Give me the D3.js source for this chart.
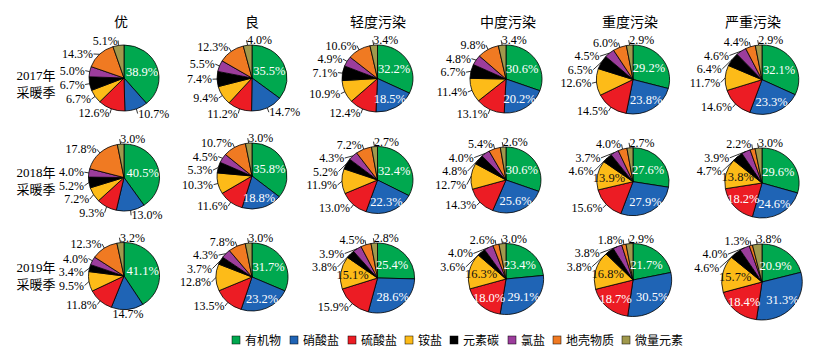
<!DOCTYPE html>
<html><head><meta charset="utf-8">
<script src="https://cdn.jsdelivr.net/npm/d3@7"></script>
<style>
body{margin:0;background:#fff}
text{font-family:"Liberation Serif","Times New Roman","Noto Sans CJK SC",serif}
</style>
</head><body>
<svg id="c" width="817" height="357"></svg>
<script>
// ---------- data ----------
const columns = ['优', '良', '轻度污染', '中度污染', '重度污染', '严重污染'];
const seasonYears = ['2017年', '2018年', '2019年'];
const seasonSuffix = '采暖季';
const components = ['有机物', '硝酸盐', '硫酸盐', '铵盐', '元素碳', '氯盐', '地壳物质', '微量元素'];

const share2017 = [
  [38.9, 10.7, 12.6, 6.7, 6.7, 5.0, 14.3, 5.1],
  [35.5, 14.7, 11.2, 9.4, 7.4, 5.5, 12.3, 4.0],
  [32.2, 18.5, 12.4, 10.9, 7.1, 4.9, 10.6, 3.4],
  [30.6, 20.2, 13.1, 11.4, 6.7, 4.8, 9.8, 3.4],
  [29.2, 23.8, 14.5, 12.6, 6.5, 4.5, 6.0, 2.9],
  [32.1, 23.3, 14.6, 11.7, 6.4, 4.6, 4.4, 2.9]
];
const share2018 = [
  [40.5, 13.0, 9.3, 7.2, 5.2, 4.0, 17.8, 3.0],
  [35.8, 18.8, 11.6, 10.3, 5.3, 4.5, 10.7, 3.0],
  [32.4, 22.3, 13.0, 11.9, 5.2, 4.3, 7.2, 2.7],
  [30.6, 25.6, 14.3, 12.7, 4.8, 4.0, 5.4, 2.6],
  [27.6, 27.9, 15.6, 13.9, 4.6, 3.7, 4.0, 2.7],
  [29.6, 24.6, 18.2, 13.8, 4.7, 3.9, 2.2, 3.0]
];
const share2019 = [
  [41.1, 14.7, 11.8, 9.5, 3.4, 4.0, 12.3, 3.2],
  [31.7, 23.2, 13.5, 12.8, 3.7, 4.3, 7.8, 3.0],
  [25.4, 28.6, 15.9, 15.1, 3.8, 3.9, 4.5, 2.8],
  [23.4, 29.1, 18.0, 16.3, 3.6, 4.0, 2.6, 3.0],
  [21.7, 30.5, 18.7, 16.8, 3.8, 3.8, 1.8, 2.9],
  [20.9, 31.3, 18.4, 15.7, 4.6, 4.0, 1.3, 3.8]
];
const shares = [share2017, share2018, share2019];

// ---------- layout / style ----------
const colors = ['#00a84f', '#1f64b5', '#ec1c24', '#fdbb18', '#000000', '#9c3d9c', '#f07a22', '#a0994c'];
const colX = [124, 252, 377.5, 506, 633, 762];
const cyGrid = [[78, 78, 78.5, 79, 79.5, 79.7], [177.5, 176, 180, 180, 181.7, 183], [276, 277, 278, 279, 280, 282]];
const ryGrid = [[33, 33, 33.5, 34, 34.5, 34.7], [33.5, 33, 33.5, 33, 34, 35], [33.5, 34, 35, 35.5, 36.5, 38]];
const sx = 1.06;
const labelFont = 12;

const svg = d3.select('#c');
const pie = d3.pie().sort(null).value(d => d.v);

// column titles
svg.selectAll('text.title').data(columns).join('text')
  .attr('class', 'title')
  .attr('x', (d, i) => [121, 252, 378, 508, 630, 753][i])
  .attr('y', 27)
  .attr('text-anchor', 'middle')
  .attr('font-size', 14)
  .text(d => d);

// row labels
const rowLabelY = [75, 172, 267];
seasonYears.forEach((yr, r) => {
  const t = svg.append('text').attr('x', 36).attr('text-anchor', 'middle').attr('font-size', 13);
  t.append('tspan').attr('x', 36).attr('y', rowLabelY[r] + 5).text(yr);
  t.append('tspan').attr('x', 36).attr('y', rowLabelY[r] + 22).text(seasonSuffix);
});

const isInside = (i, v) => (i <= 2 && v >= 17) || (i === 3 && v >= 13.5);

shares.forEach((season, r) => {
  season.forEach((vals, c) => {
    const cx = colX[c], cy = cyGrid[r][c], ry = ryGrid[r][c], rx = ry * sx;
    const data = vals.map((v, i) => ({ v, i }));
    const arcs = pie(data);
    const g = svg.append('g').attr('transform', `translate(${cx},${cy})`);
    const pg = g.append('g').attr('transform', `scale(${sx},1)`);
    const arc = d3.arc().innerRadius(0).outerRadius(ry);
    pg.selectAll('path').data(arcs).join('path')
      .attr('d', arc)
      .attr('fill', d => colors[d.data.i])
      .attr('stroke', '#000')
      .attr('stroke-width', 0.8)
      .attr('vector-effect', 'non-scaling-stroke');

    const polar = (a, k) => [Math.sin(a) * rx * k, -Math.cos(a) * ry * k];

    // inside labels
    arcs.filter(d => isInside(d.data.i, d.data.v)).forEach(d => {
      const m = (d.startAngle + d.endAngle) / 2;
      const p = polar(m, d.data.i === 0 ? 0.55 : 0.68);
      g.append('text')
        .attr('x', p[0]).attr('y', p[1] + 4.5)
        .attr('text-anchor', 'middle')
        .attr('font-size', labelFont + 0.5)
        .attr('fill', d.data.i === 3 ? '#111' : '#fff')
        .text(d.data.v.toFixed(1) + '%');
    });

    // outside labels
    const R = [rx + 5, ry + 5];
    const outs = arcs.filter(d => !isInside(d.data.i, d.data.v)).map(d => {
      const m = (d.startAngle + d.endAngle) / 2;
      const s = Math.sin(m), co = Math.cos(m);
      const anchor = s < -0.13 ? 'end' : s > 0.13 ? 'start' : (co > 0 ? 'start' : 'middle');
      const p = polar(m, 1);
      const t = g.append('text')
        .attr('text-anchor', anchor)
        .attr('font-size', labelFont)
        .attr('fill', '#000')
        .text(d.data.v.toFixed(1) + '%');
      const w = t.node().getComputedTextLength();
      return { t, m, p, x: s * R[0], y: -co * R[1], anchor, w };
    });
    const box = o => {
      const x0 = o.anchor === 'end' ? o.x - o.w : o.anchor === 'start' ? o.x : o.x - o.w / 2;
      return [x0 + 1, x0 + o.w - 1];
    };
    const sorted = outs.slice().sort((a, b) => a.y - b.y);
    const placed = [];
    const lh = 13.5;
    sorted.forEach(o => {
      let moved = true, guard = 0;
      while (moved && guard++ < 20) {
        moved = false;
        const [a0, a1] = box(o);
        for (const p of placed) {
          const [b0, b1] = box(p);
          if (a0 < b1 && b0 < a1 && Math.abs(o.y - p.y) < lh) {
            o.y = p.y + lh;
            if (o.anchor !== 'middle' && Math.abs(o.y) < R[1]) {
              const nx = Math.sign(o.x) * R[0] * Math.sqrt(1 - (o.y / R[1]) ** 2);
              if (Math.abs(nx) > Math.abs(o.x)) o.x = nx;
            }
            moved = true;
          }
        }
      }
      placed.push(o);
    });
    outs.forEach(o => {
      o.t.attr('x', o.x).attr('y', o.y + 4);
      const ax = o.anchor === 'end' ? o.x + 0.5 : o.anchor === 'start' ? o.x - 0.5 : o.x;
      const ay = o.anchor === 'middle' ? o.y - 5 : o.y;
      g.insert('line', 'text')
        .attr('x1', o.p[0]).attr('y1', o.p[1])
        .attr('x2', ax).attr('y2', ay)
        .attr('stroke', '#000').attr('stroke-width', 0.8);
    });
  });
});

// legend
const legendX = [232, 290, 348, 405, 450, 508, 553, 622];
const lg = svg.append('g');
components.forEach((name, i) => {
  lg.append('rect').attr('x', legendX[i]).attr('y', 336).attr('width', 8).attr('height', 8)
    .attr('fill', colors[i]).attr('stroke', '#000').attr('stroke-width', 0.5);
  lg.append('text').attr('x', legendX[i] + 13).attr('y', 344.5).attr('font-size', 12).text(name);
});
</script>
</body></html>
